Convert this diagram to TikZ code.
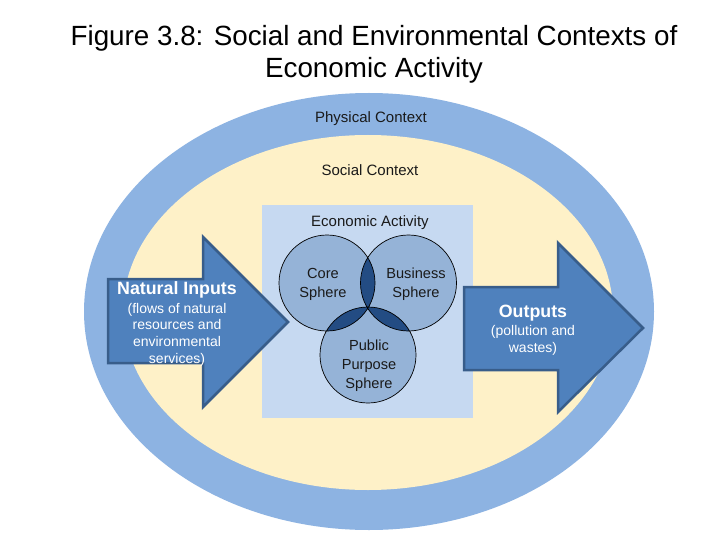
\documentclass[tikz,border=0pt]{standalone}
\usepackage{fontspec}
\setmainfont{Liberation Sans}
\definecolor{ringblue}{HTML}{8DB3E2}
\definecolor{socyellow}{HTML}{FEF1C8}
\definecolor{econblue}{HTML}{C6D9F1}
\definecolor{sphereblue}{HTML}{95B3D7}
\definecolor{lensblue}{HTML}{234C83}
\definecolor{arrowfill}{HTML}{4F81BD}
\definecolor{arrowline}{HTML}{385D8A}
\definecolor{txt}{HTML}{1A1A1A}
\tikzset{
  ctxlabel/.style={font=\fontsize{15}{17}\selectfont, text=txt, inner sep=0pt},
  spherebox/.style={circle, minimum size=96pt, inner sep=0pt, fill=sphereblue},
  spheretext/.style={font=\fontsize{14.6}{19}\selectfont, text=txt, align=center, inner sep=0pt},
  bigarrow/.style={fill=arrowfill, draw=arrowline, line width=2.5pt, line join=miter},
  arrowhead/.style={font=\bfseries\fontsize{17.8}{20}\selectfont, text=white, inner sep=0pt},
  arrowsub/.style={font=\fontsize{14}{16.7}\selectfont, text=white, align=center, inner sep=0pt},
}
\begin{document}
\begin{tikzpicture}[x=1pt,y=-1pt]
\useasboundingbox (0,0) rectangle (720,540);
\fill[white] (0,0) rectangle (720,540);
% title
\node[font=\fontsize{27.8}{32}\selectfont, align=center, inner sep=0pt] (title) at (374,54) {Figure 3.8: Social and Environmental Contexts of\\Economic Activity};
% contexts
\fill[ringblue] (369,311.5) ellipse [x radius=285pt, y radius=218.5pt];
\fill[socyellow] (368,312.5) ellipse [x radius=245pt, y radius=177.5pt];
\fill[econblue] (262,205) rectangle (473,418);
\node[ctxlabel] (phys) at (371,119) {Physical Context};
\node[ctxlabel] (soc) at (370,170) {Social Context};
\node[ctxlabel] (econ) at (370,223) {Economic Activity};
% spheres
\node[spherebox] (core) at (327,283) {};
\node[spherebox] (biz) at (408.5,283) {};
\node[spherebox] (pub) at (368,355) {};
\begin{scope}
  \clip (core.center) circle (48pt);
  \fill[lensblue] (biz.center) circle (48pt);
  \fill[lensblue] (pub.center) circle (48pt);
\end{scope}
\begin{scope}
  \clip (biz.center) circle (48pt);
  \fill[lensblue] (pub.center) circle (48pt);
\end{scope}
\draw[black, line width=0.7pt] (core.center) circle (48pt) (biz.center) circle (48pt) (pub.center) circle (48pt);
\node[spheretext] (coret) at (323,284) {Core\\Sphere};
\node[spheretext] (bizt) at (416,284) {Business\\Sphere};
\node[spheretext] (pubt) at (369,365.5) {Public\\Purpose\\Sphere};
% arrows
\draw[bigarrow] (108,279) -- (203,279) -- (203,237) -- (288,322) -- (203,407) -- (203,363) -- (108,363) -- cycle;
\draw[bigarrow] (464,287) -- (558,287) -- (558,243) -- (643,328) -- (558,412) -- (558,370) -- (464,370) -- cycle;
\node[arrowhead] (nat) at (177,290) {Natural Inputs};
\node[arrowsub] (natsub) at (177,334.5) {(flows of natural\\resources and\\environmental\\services)};
\node[arrowhead] (out) at (533,313) {Outputs};
\node[arrowsub] (outsub) at (533,340.5) {(pollution and\\wastes)};
\end{tikzpicture}
\end{document}
